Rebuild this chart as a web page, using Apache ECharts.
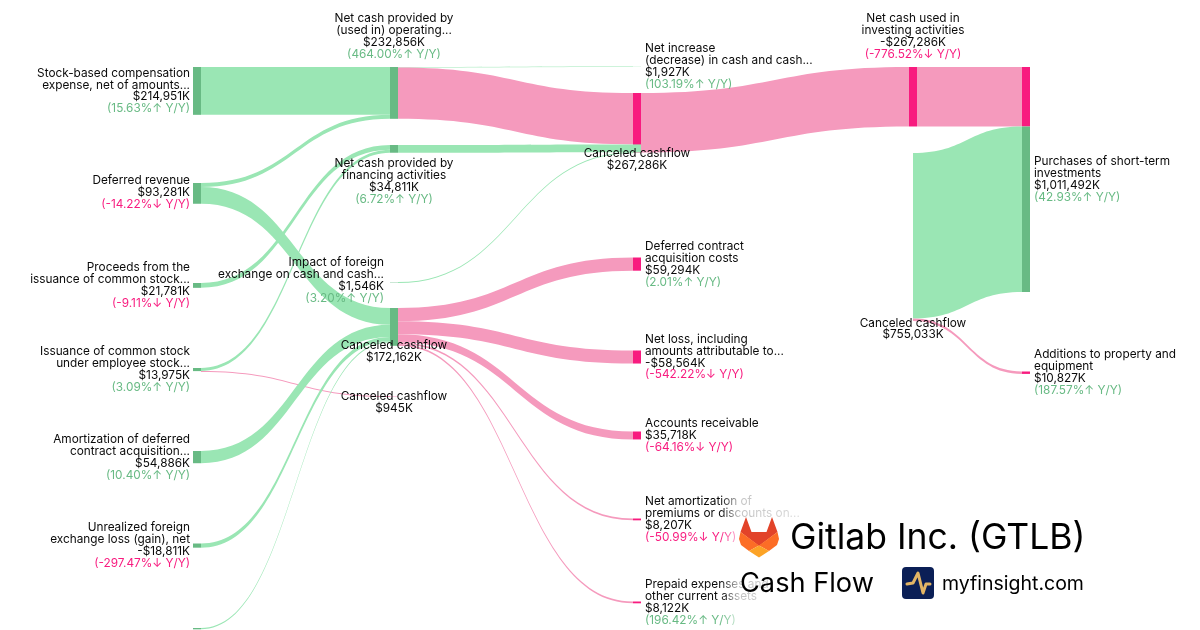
<!DOCTYPE html>
<html>
<head>
<meta charset="utf-8">
<title>Gitlab Inc. (GTLB) Cash Flow</title>
<script src="https://cdn.jsdelivr.net/npm/echarts@6/dist/echarts.min.js"></script>
<style>
  html, body { margin: 0; padding: 0; background: #fff; }
  #chart { width: 1200px; height: 630px; }
</style>
</head>
<body>
<div id="chart"></div>
<script>
// node data
var nodeIds = ['stock', 'deferredRev', 'proceeds', 'issuance', 'amortDca', 'unrealized', 'other',
  'operating', 'financing', 'fx', 'canceledB', 'canceledC',
  'netIncrease', 'canceledA', 'canceledA2', 'dca', 'netLoss', 'receivable', 'netAmort', 'prepaid',
  'investing', 'canceledD',
  'purchases1', 'purchases2', 'additions'];
var nodeNames = ['Stock-based compensation\nexpense, net of amounts...', 'Deferred revenue', 'Proceeds from the\nissuance of common stock...',
  'Issuance of common stock\nunder employee stock...', 'Amortization of deferred\ncontract acquisition...', 'Unrealized foreign\nexchange loss (gain), net', '',
  'Net cash provided by\n(used in) operating...', 'Net cash provided by\nfinancing activities', 'Impact of foreign\nexchange on cash and cash...', 'Canceled cashflow', 'Canceled cashflow',
  'Net increase\n(decrease) in cash and cash...', 'Canceled cashflow', '', 'Deferred contract\nacquisition costs', 'Net loss, including\namounts attributable to...', 'Accounts receivable', 'Net amortization of\npremiums or discounts on...', 'Prepaid expenses and\nother current assets',
  'Net cash used in\ninvesting activities', 'Canceled cashflow',
  '', 'Purchases of short-term\ninvestments', 'Additions to property and\nequipment'];
var nodeAmounts = ['$214,951K', '$93,281K', '$21,781K', '$13,975K', '$54,886K', '-$18,811K', '',
  '$232,856K', '$34,811K', '$1,546K', '$172,162K', '$945K',
  '$1,927K', '$267,286K', '', '$59,294K', '-$58,564K', '$35,718K', '$8,207K', '$8,122K',
  '-$267,286K', '$755,033K',
  '', '$1,011,492K', '$10,827K'];
var nodeYoy = ['15.63%↑', '-14.22%↓', '-9.11%↓', '3.09%↑', '10.40%↑', '-297.47%↓', '',
  '464.00%↑', '6.72%↑', '3.20%↑', '', '',
  '103.19%↑', '', '', '2.01%↑', '-542.22%↓', '-64.16%↓', '-50.99%↓', '196.42%↑',
  '-776.52%↓', '',
  '', '42.93%↑', '187.57%↑'];

// link data
var linkSources = ['stock', 'deferredRev', 'deferredRev', 'proceeds', 'issuance', 'issuance', 'amortDca', 'unrealized', 'other',
  'operating', 'operating', 'financing', 'fx',
  'canceledB', 'canceledB', 'canceledB', 'canceledB', 'canceledB',
  'canceledA', 'investing', 'canceledD', 'canceledD'];
var linkTargets = ['operating', 'operating', 'canceledB', 'financing', 'financing', 'canceledC', 'canceledB', 'canceledB', 'canceledB',
  'netIncrease', 'canceledA', 'canceledA2', 'canceledA2',
  'dca', 'netLoss', 'receivable', 'netAmort', 'prepaid',
  'investing', 'purchases1', 'purchases2', 'additions'];
var linkValues = [214951, 17905, 75376, 21781, 13030, 945, 54886, 18811, 6000,
  1927, 230929, 34811, 1546,
  59294, 58564, 35718, 8207, 8122,
  267286, 267286, 744206, 10827];
var pinkLinks = ['issuance>canceledC', 'operating>canceledA', 'canceledB>dca', 'canceledB>netLoss', 'canceledB>receivable', 'canceledB>netAmort',
  'canceledB>prepaid', 'canceledA>investing', 'investing>purchases1', 'canceledD>additions'];
var paleLinks = ['operating>netIncrease'];

// layout of the columns and nodes, in pixels
var H = 247.5, W = 1200;
var nodeColumn = {stock: 0, deferredRev: 0, proceeds: 0, issuance: 0, amortDca: 0, unrealized: 0, other: 0,
  operating: 1, financing: 1, fx: 1, canceledB: 1, canceledC: 1,
  netIncrease: 2, canceledA: 2, canceledA2: 2, dca: 2, netLoss: 2, receivable: 2, netAmort: 2, prepaid: 2,
  investing: 3, canceledD: 3, purchases1: 4, purchases2: 4, additions: 4};
var columnX = [193, 390, 633, 909, 1022];
var nodeTop = {stock: 67, deferredRev: 183, proceeds: 283, issuance: 368, amortDca: 451, unrealized: 543.5, other: 628,
  operating: 67, financing: 145, fx: 282, canceledB: 308, canceledC: 396,
  netIncrease: 66, canceledA: 93, canceledA2: 144.4, dca: 257.5, netLoss: 350.5, receivable: 431.5, netAmort: 518.5, prepaid: 601.5,
  investing: 67, canceledD: 153, purchases1: 67, purchases2: 126.5, additions: 371.5};
var nodeLeftShift = {canceledD: -4};
var labelSpot = {
  deferredRev: {position: 'left', align: 'right', offset: [0, -1]},
  operating: {position: 'top', align: 'center', offset: [0, -4]},
  financing: {position: 'bottom', align: 'center', offset: [0, 2]},
  fx: {position: 'left', align: 'right', offset: [-3, -2]},
  canceledB: {position: 'bottom', align: 'center', offset: [0, -9]},
  canceledC: {position: 'bottom', align: 'center', offset: [0, -9]},
  canceledA: {position: 'bottom', align: 'center', offset: [0, -8]},
  investing: {position: 'top', align: 'center', offset: [0, -4]},
  canceledD: {position: 'bottom', align: 'center', offset: [4, -7]},
  purchases2: {position: 'right', align: 'left', offset: [1, -30]},
  additions: {position: 'right', align: 'left', offset: [1, 0]}
};

var GREEN_LINK = '#9ae6b4', PINK_LINK = '#f59abd', GREEN_NODE = '#68ba84', PINK_NODE = '#f81b7f', PALE_GREEN = '#cdf3da';
var TEXT_UP = '#68ba84', TEXT_DOWN = '#f81b7f';
var pinkNodes = ['canceledA', 'canceledC', 'dca', 'netLoss', 'receivable', 'netAmort', 'prepaid', 'investing', 'purchases1', 'additions'];

function nodeLabel(i) {
  var id = nodeIds[i];
  var spot = labelSpot[id] || (nodeColumn[id] === 0 ? {position: 'left', align: 'right', offset: [0, 0]} : {position: 'right', align: 'left', offset: [1, 0]});
  if (!nodeNames[i]) return {show: false};
  var lines = nodeNames[i].split('\n').map(function (s) { return '{n|' + s + '}'; });
  lines.push('{n|' + nodeAmounts[i] + '}');
  if (nodeYoy[i]) {
    var tag = nodeYoy[i].charAt(0) === '-' ? 'd' : 'u';
    lines.push('{' + tag + '|(' + nodeYoy[i] + ' Y/Y)}');
  }
  var font = {fontFamily: 'Inter', fontSize: 11.8, lineHeight: 11.9, align: spot.align};
  return {
    show: true,
    position: spot.position,
    offset: spot.offset,
    distance: 3,
    formatter: lines.join('\n'),
    rich: {
      n: Object.assign({color: '#0a0a0a'}, font),
      u: Object.assign({color: TEXT_UP}, font),
      d: Object.assign({color: TEXT_DOWN}, font)
    }
  };
}

var nodes = nodeIds.map(function (id, i) {
  var fill = GREEN_NODE;
  if (id === 'canceledA2') fill = GREEN_LINK;
  if (id === 'netIncrease') fill = PALE_GREEN;
  if (pinkNodes.indexOf(id) >= 0) fill = PINK_NODE;
  return {
    name: id,
    depth: nodeColumn[id],
    localX: (columnX[nodeColumn[id]] + (nodeLeftShift[id] || 0)) / W,
    localY: nodeTop[id] / H,
    itemStyle: {color: fill, opacity: id === 'canceledD' ? 0 : 1, borderWidth: 0},
    label: nodeLabel(i)
  };
});

var links = linkSources.map(function (s, i) {
  var key = s + '>' + linkTargets[i];
  var color = GREEN_LINK;
  if (pinkLinks.indexOf(key) >= 0) color = PINK_LINK;
  if (paleLinks.indexOf(key) >= 0) color = PALE_GREEN;
  return {source: s, target: linkTargets[i], value: linkValues[i],
    lineStyle: {color: color, opacity: 1, curveness: 0.5}};
});

var chart = echarts.init(document.getElementById('chart'));
var overlayZ = 100;
chart.setOption({
  animation: false,
  backgroundColor: '#fff',
  series: [{
    type: 'sankey',
    left: 0, top: 0, width: W, height: H,
    nodeWidth: 8,
    nodeGap: 10,
    layoutIterations: 0,
    draggable: false,
    emphasis: {disabled: true},
    data: nodes,
    links: links
  }],
  graphic: [
    // white fade behind the title block
    {type: 'rect', z: overlayZ, shape: {x: 720, y: 490, width: 480, height: 140},
      style: {fill: new echarts.graphic.LinearGradient(0, 0, 1, 0, [
        {offset: 0, color: 'rgba(255,255,255,0)'},
        {offset: 0.04, color: 'rgba(255,255,255,0.75)'},
        {offset: 0.167, color: 'rgba(255,255,255,0.85)'},
        {offset: 0.19, color: 'rgba(255,255,255,1)'},
        {offset: 1, color: 'rgba(255,255,255,1)'}])}},
    // gitlab logo
    {type: 'polygon', z: overlayZ + 1, shape: {points: [[746, 517], [751.5, 532], [766.5, 532], [772, 517], [777.5, 532], [759, 546], [740.5, 532]]}, style: {fill: '#e24329'}},
    {type: 'polygon', z: overlayZ + 1, shape: {points: [[740.5, 532], [739, 539], [741, 545], [749, 551], [759, 545.5]]}, style: {fill: '#fc6d26'}},
    {type: 'polygon', z: overlayZ + 1, shape: {points: [[777.5, 532], [779, 539], [777, 545], [769, 551], [759, 545.5]]}, style: {fill: '#fc6d26'}},
    {type: 'polygon', z: overlayZ + 1, shape: {points: [[749, 551], [759, 545.5], [769, 551], [759, 557.5]]}, style: {fill: '#fca326'}},
    {type: 'text', z: overlayZ + 1, style: {x: 790, y: 538.5, text: 'Gitlab Inc. (GTLB)', fontFamily: 'Inter', fontSize: 35.5, fill: '#000', verticalAlign: 'middle'}},
    {type: 'text', z: overlayZ + 1, style: {x: 740, y: 584, text: 'Cash Flow', fontFamily: 'Inter', fontSize: 27.2, fill: '#000', verticalAlign: 'middle'}},
    // myfinsight badge
    {type: 'rect', z: overlayZ + 1, shape: {x: 902, y: 567, width: 32, height: 32, r: 4}, style: {fill: '#0b1f56'}},
    {type: 'polyline', z: overlayZ + 2, shape: {points: [[907, 584], [913, 583], [918, 573], [923, 593], [926, 584], [930, 584]]},
      style: {stroke: '#e3b565', lineWidth: 3, fill: null, lineCap: 'round', lineJoin: 'round'}},
    {type: 'text', z: overlayZ + 1, style: {x: 942, y: 584, text: 'myfinsight.com', fontFamily: 'Inter', fontSize: 19.5, fill: '#000', verticalAlign: 'middle'}}
  ]
});
</script>
</body>
</html>
